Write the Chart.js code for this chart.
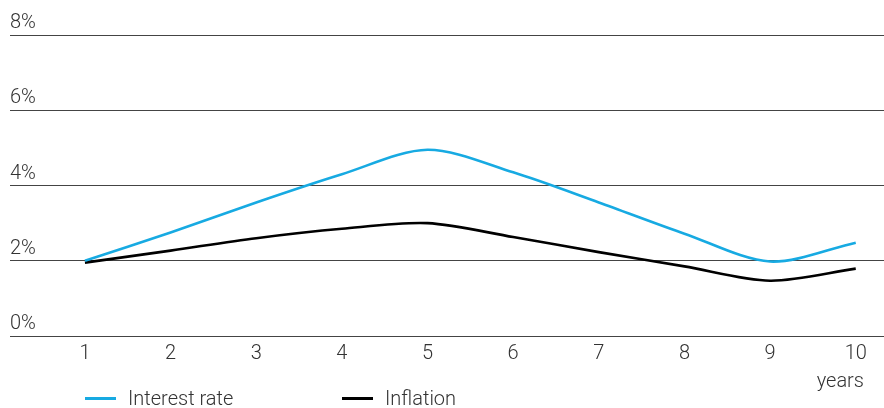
<!DOCTYPE html>
<html>
<head>
<meta charset="utf-8">
<script src="https://cdn.jsdelivr.net/npm/chart.js@4/dist/chart.umd.min.js"></script>
<style>
  html, body { margin: 0; padding: 0; background: #fff; }
  #wrap { position: relative; width: 884px; height: 408px; font-family: Roboto, "Liberation Sans", sans-serif; font-weight: 300; color: #333; }
  #chart { position: absolute; left: 0; top: 0; }
  .unit { position: absolute; right: 20px; top: 368px; font-size: 20px; line-height: 24px; }
  .legend { position: absolute; top: 386px; height: 24px; display: flex; align-items: center; font-size: 20px; }
  .legend .swatch { width: 31px; height: 3px; margin-right: 12px; }
</style>
</head>
<body>
<div id="wrap">
  <canvas id="chart" width="884" height="408"></canvas>
  <div class="unit" id="unit"></div>
  <div id="legend"></div>
</div>
<script>
// Years on the horizontal axis
const years = [1, 2, 3, 4, 5, 6, 7, 8, 9, 10];
// Percent values per year
const interestRate = [2.0, 2.75, 3.55, 4.3, 4.95, 4.35, 3.55, 2.72, 1.98, 2.48];
const inflation = [1.95, 2.27, 2.6, 2.85, 3.0, 2.63, 2.23, 1.85, 1.47, 1.79];
// Gridline / tick values for the percent axis
const percentTicks = [0, 2, 4, 6, 8];
const seriesNames = ['Interest rate', 'Inflation'];
const seriesColors = ['#17aae2', '#000000'];
const unitLabel = 'years';
// Where each legend entry starts (aligned with year columns)
const legendYears = [1, 4];

const textColor = '#333';
const fontSpec = { family: 'Roboto, "Liberation Sans", sans-serif', size: 20, weight: 300 };

const toPoints = arr => arr.map((v, i) => ({ x: years[i], y: v }));

const chart = new Chart(document.getElementById('chart'), {
  type: 'line',
  data: {
    datasets: [
      { label: seriesNames[0], data: toPoints(interestRate), borderColor: seriesColors[0], borderWidth: 2.6, pointRadius: 0, tension: 0.3, fill: false },
      { label: seriesNames[1], data: toPoints(inflation), borderColor: seriesColors[1], borderWidth: 2.6, pointRadius: 0, tension: 0.3, fill: false }
    ]
  },
  options: {
    responsive: false,
    animation: false,
    events: [],
    layout: { padding: { left: 10, right: 0, top: 35, bottom: 36 } },
    plugins: { legend: { display: false }, tooltip: { enabled: false } },
    scales: {
      x: {
        type: 'linear',
        min: 0.125,
        max: 10.33,
        afterBuildTicks: axis => { axis.ticks = years.map(v => ({ value: v })); },
        grid: { display: false, drawTicks: false },
        border: { display: false },
        ticks: { color: textColor, font: fontSpec, padding: 6, maxRotation: 0, autoSkip: false }
      },
      y: {
        min: 0,
        max: 8,
        afterBuildTicks: axis => { axis.ticks = percentTicks.map(v => ({ value: v })); },
        grid: { color: '#444', lineWidth: 1, drawTicks: false },
        border: { display: false },
        ticks: {
          mirror: true,
          padding: 0,
          labelOffset: -12,
          color: textColor,
          font: fontSpec,
          callback: v => v + '%'
        }
      }
    }
  }
});

document.getElementById('unit').textContent = unitLabel;

// Legend entries placed at the year columns
const legend = document.getElementById('legend');
chart.data.datasets.forEach((ds, i) => {
  const item = document.createElement('div');
  item.className = 'legend';
  item.style.left = Math.round(chart.scales.x.getPixelForValue(legendYears[i])) + 'px';
  const sw = document.createElement('span');
  sw.className = 'swatch';
  sw.style.background = ds.borderColor;
  const tx = document.createElement('span');
  tx.textContent = ds.label;
  item.appendChild(sw);
  item.appendChild(tx);
  legend.appendChild(item);
});
</script>
</body>
</html>
